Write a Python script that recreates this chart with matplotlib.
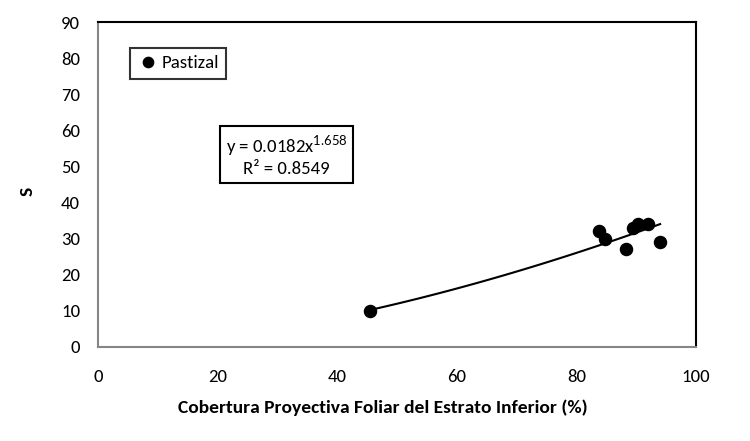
import numpy as np
import matplotlib.pyplot as plt

plt.rcParams['font.family'] = ['Carlito', 'Lato', 'DejaVu Sans']
plt.rcParams['mathtext.fontset'] = 'custom'
plt.rcParams['mathtext.rm'] = 'Lato'
plt.rcParams['mathtext.it'] = 'Lato'

# cobertura (%) y S
cobertura = [45.4, 83.8, 84.8, 88.3, 89.5, 90.3, 92.0, 94.0]
riqueza = [10.0, 32.1, 29.9, 27.1, 33.0, 34.1, 34.1, 29.1]
coef_a = 0.0182
coef_b = 1.658
r2 = 0.8549

fig = plt.figure(figsize=(7.5, 4.41), dpi=100)
ax = fig.add_axes([0.1307, 0.2136, 0.7973, 0.7365])

ax.plot(cobertura, riqueza, 'o', color='black', markersize=8.7, label='Pastizal', zorder=3)

xfit = np.linspace(min(cobertura), max(cobertura), 100)
ax.plot(xfit, coef_a * xfit ** coef_b, color='black', linewidth=1.5, zorder=2)

ax.set_xlim(0, 100)
ax.set_ylim(0, 90)
ax.set_xticks(range(0, 101, 20))
ax.set_yticks(range(0, 91, 10))
ax.tick_params(length=0, labelsize=13.5)
ax.tick_params(axis='x', pad=16)
ax.tick_params(axis='y', pad=13)
for s in ['left', 'bottom']:
    ax.spines[s].set_color('#868686')
    ax.spines[s].set_linewidth(1.5)
for s in ['top', 'right']:
    ax.spines[s].set_color('black')
    ax.spines[s].set_linewidth(1.5)

ax.set_xlabel('Cobertura Proyectiva Foliar del Estrato Inferior (%)', fontsize=14,
              fontweight='bold', va='center')
ax.xaxis.set_label_coords(0.477, -0.188)
ax.set_ylabel('S', fontsize=14, fontweight='bold', va='center')
ax.yaxis.set_label_coords(-0.117, 0.477)

leg = ax.legend(loc='upper left', bbox_to_anchor=(0.037, 0.95), fontsize=13.5,
                frameon=True, fancybox=False, handletextpad=0.1, handlelength=1.2,
                borderpad=0.4, markerscale=0.85)
leg.get_frame().set_edgecolor('black')
leg.get_frame().set_linewidth(1.5)

ax.text(0.3155, 0.59, 'y = 0.0182x$^{1.658}$\nR² = %.4f' % r2, transform=ax.transAxes,
        ha='center', va='center', fontsize=13.5, linespacing=1.25,
        bbox=dict(boxstyle='square,pad=0.3', facecolor='white', edgecolor='black', linewidth=1.5))

fig.savefig('out.png', dpi=100)
